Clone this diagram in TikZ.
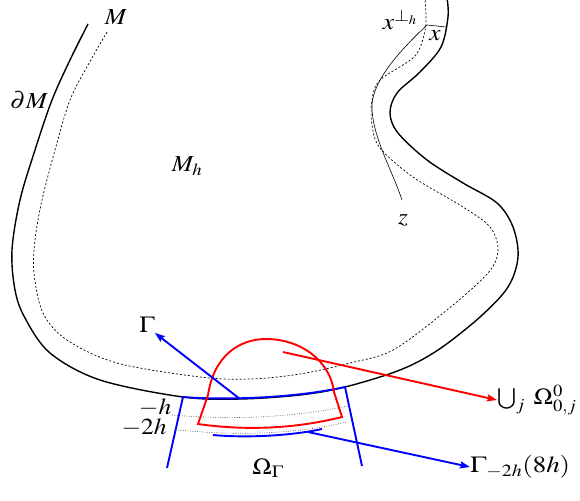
\documentclass[tikz,border=0pt]{standalone}
\usepackage{mathptmx}
\usetikzlibrary{arrows.meta}
\DeclareMathSizes{23}{23}{17}{13}
\newcommand{\wide}[1]{\scalebox{1.1}[1]{#1}}
\begin{document}
\begin{tikzpicture}[x=1pt,y=-1pt,
  lbl/.style={inner sep=0pt,font=\fontsize{23}{27}\selectfont},
  bnd/.style={line width=1.4pt,black},
  inner/.style={line width=0.7pt,dash pattern=on 2pt off 2pt},
  lev/.style={line width=0.6pt,dash pattern=on 0.8pt off 1.6pt,black!70},
  bl/.style={line width=1.9pt,blue},
  rd/.style={line width=1.9pt,red},
  arr/.style={-{Stealth[length=10pt,width=7pt,inset=1.5pt]}}]
\useasboundingbox (0,0) rectangle (580,500);
% outer boundary
\draw[bnd] plot[smooth,tension=0.55] coordinates {(88,24) (70,60) (52,100) (35,150) (20,200) (12,250) (15,290) (25,318) (50,353) (100,380) (183,397) (240,399) (300,395) (345,387) (400,370) (438,350) (480,317) (508,287) (518,257) (513,227) (497,203) (463,183) (427,160) (398,133) (390,113) (397,93) (420,72) (441,47) (448,17) (447,-2)};
% inner dashed curve
\draw[inner] plot[smooth,tension=0.55] coordinates {(107,32) (88,65) (70,100) (55,150) (42,200) (35,240) (34,273) (43,313) (67,340) (117,363) (200,377) (250,379) (300,374) (350,363) (393,350) (447,310) (488,273) (498,250) (490,227) (463,207) (413,177) (380,148) (372,125) (372,100) (380,80) (414,57) (424,35) (426,18) (425,-2)};
% thin line x^perp -- z
\coordinate (xp) at (427,25);
\coordinate (xb) at (446,27);
\draw[line width=0.6pt] (xp) .. controls (395,55) and (370,85) .. (372,110) .. controls (374,140) and (392,170) .. (402,200);
\draw[line width=0.6pt] (xp) -- (xb);
% level lines
\draw[lev] (172,415) .. controls (230,420) and (290,418) .. (348,406);
\draw[lev] (178,430) .. controls (240,436) and (295,434) .. (347,422);
% blue region
\coordinate (bl1) at (183,397);
\coordinate (br1) at (345,387);
\coordinate (bl2) at (167,468);
\coordinate (br2) at (362,466);
\draw[bl] (bl2) -- (bl1) .. controls (220,400) and (290,399) .. (br1) -- (br2);
\draw[bl] (213,435) .. controls (245,438) and (290,436) .. (322,429);
% red region
\draw[rd] (198,424) -- (208,395) .. controls (214,355) and (240,339) .. (266,339) .. controls (300,339) and (330,360) .. (334,392) -- (342,417) .. controls (290,430) and (240,430) .. cycle;
% labels
\node[lbl] (lM) at (116,17) {\wide{$M$}};
\node[lbl] (ldM) at (29,100) {\wide{$\partial M$}};
\node[lbl] (lMh) at (187,166) {\wide{$M_h$}};
\node[lbl] (lxp) at (400,20) {\wide{$x^{\perp_h}$}};
\node[lbl] (lx) at (435,36) {\wide{$x$}};
\node[lbl] (lz) at (403,220) {\wide{$z$}};
\node[lbl] (lG) at (147,325) {\wide{$\Gamma$}};
\node[lbl] (lh) at (155,407.5) {\wide{$-h$}};
\node[lbl] (l2h) at (144,428) {\wide{$-2h$}};
\node[lbl] (lO) at (268,468) {\wide{$\Omega_\Gamma$}};
\node[lbl,anchor=west] (lU) at (497,400) {\wide{$\bigcup_j\;\Omega^0_{0,j}$}};
\node[lbl,anchor=west] (lGh) at (470,467) {\scalebox{1.17}[1]{$\Gamma_{-2h}(8h)$}};
% arrows
\coordinate (gs) at (240,399);
\coordinate (rs) at (283,352);
\coordinate (bs) at (308,432);
\draw[bl,arr] (gs) -- (lG.south east);
\draw[rd,arr] (rs) -- (lU.west);
\draw[bl,arr] (bs) -- (lGh.west);
\end{tikzpicture}
\end{document}
